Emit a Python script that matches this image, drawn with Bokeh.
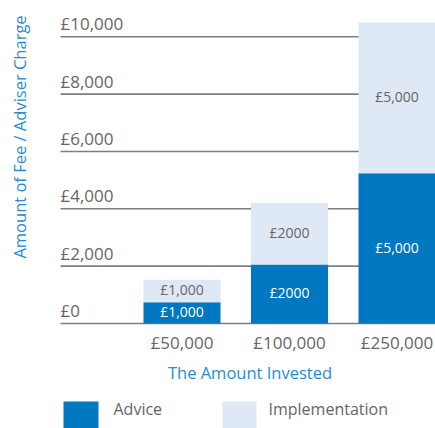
import math
from bokeh.plotting import figure
from bokeh.models import Range1d, ColumnDataSource
from bokeh.core.properties import value
from bokeh.embed import file_html
from bokeh.resources import INLINE

# ---- data ----
categories = ["£50,000", "£100,000", "£250,000"]
advice_height = [740, 2060, 5240]          # bar heights as drawn
implementation_height = [790, 2140, 5260]  # bar heights as drawn
advice_labels = ["£1,000", "£2000", "£5,000"]
implementation_labels = ["£1,000", "£2000", "£5,000"]
y_ticks = [0, 2000, 4000, 6000, 8000, 10000]
y_tick_labels = ["£0", "£2,000", "£4,000", "£6,000", "£8,000", "£10,000"]
series_names = ["Advice", "Implementation"]

DARK = "#0077c1"
LIGHT = "#dfe9f5"
GREY = "#666666"
BLUE = "#2a8bd3"
FONT = "Open Sans"

W, H = 435, 428
# pixel mapping helpers (layout only)
px_per_x = 107.5
x_origin_px = 181.5
px_per_y = 0.02867
y_origin_px = 323.0

def xd(px):
    return (px - x_origin_px) / px_per_x

def yd(py):
    return (y_origin_px - py) / px_per_y

p = figure(width=W, height=H, x_range=Range1d(xd(0), xd(W)), y_range=Range1d(yd(H), yd(0)),
           min_border=0, toolbar_location=None, output_backend="svg",
           x_axis_type=None, y_axis_type=None, outline_line_color=None)
p.grid.visible = False
p.background_fill_color = "white"
p.border_fill_color = "white"

xs = list(range(len(categories)))

# gridlines
p.segment(x0=[xd(60)] * len(y_ticks), x1=[xd(W)] * len(y_ticks), y0=y_ticks, y1=y_ticks,
          line_color="#7f7f7f", line_width=1.6)

# y tick labels above gridlines
p.text(x=[xd(60)] * len(y_ticks), y=y_ticks, text=y_tick_labels, text_align="left",
       text_baseline="middle", y_offset=-13, text_font=value(FONT),
       text_font_size="17px", text_color=GREY)

src = ColumnDataSource(dict(x=xs, advice=advice_height, implementation=implementation_height))
rs = p.vbar_stack(["advice", "implementation"], x="x", width=77 / px_per_x,
                  color=[DARK, LIGHT], line_color=None, source=src)

# bar labels
adv_mid = [a / 2 for a in advice_height]
imp_mid = [a + b / 2 for a, b in zip(advice_height, implementation_height)]
p.text(x=xs, y=adv_mid, text=advice_labels, text_align="center", text_baseline="middle",
       y_offset=-1, text_font=value(FONT), text_font_size="14px", text_color="white")
p.text(x=xs, y=imp_mid, text=implementation_labels, text_align="center", text_baseline="middle",
       y_offset=-1, text_font=value(FONT), text_font_size="14px", text_color=GREY)

# x category labels
p.text(x=xs, y=[0] * len(xs), text=categories, text_align="center", text_baseline="middle",
       y_offset=18.5, text_font=value(FONT), text_font_size="17px", text_color=GREY)

# axis titles
p.text(x=[xd(249.5)], y=[0], text=["The Amount Invested"], text_align="center",
       text_baseline="middle", y_offset=48.5, text_font=value(FONT),
       text_font_size="16.5px", text_color=BLUE)
p.text(x=[xd(19)], y=[yd(136.5)], text=["Amount of Fee / Adviser Charge"], angle=math.pi / 2,
       text_align="center", text_baseline="middle", text_font=value(FONT),
       text_font_size="16.5px", text_color=BLUE)

# legend (swatches + labels)
p.rect(x=[xd(80.5), xd(239)], y=[yd(414.5)] * 2, width=[35, 34], height=[27, 27],
       width_units="screen", height_units="screen", fill_color=[DARK, LIGHT], line_color=None)
p.text(x=[xd(113), xd(268)], y=[yd(408.5)] * 2, text=series_names, text_align="left",
       text_baseline="middle", text_font=value(FONT), text_font_size="16px", text_color=GREY)

open("out.html", "w").write(file_html(p, INLINE))
